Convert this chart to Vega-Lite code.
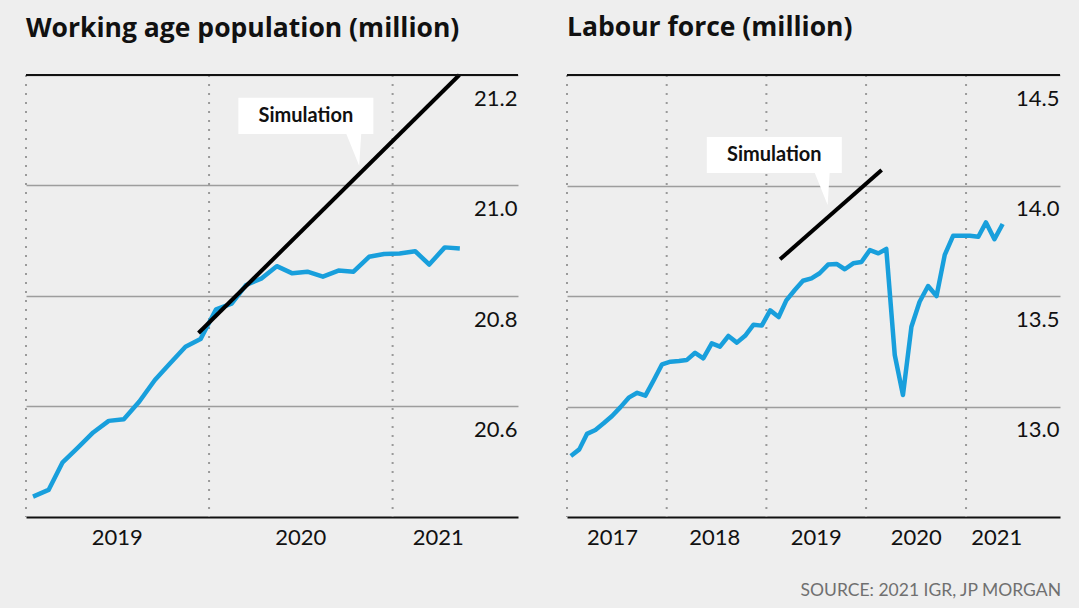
{
  "$schema": "https://vega.github.io/schema/vega-lite/v6.json",
  "background": "#eeeeee",
  "padding": {"left": 25, "right": 18, "top": 14, "bottom": 12},
  "spacing": 49,
  "bounds": "flush",
  "title": {
    "text": "SOURCE: 2021 IGR, JP MORGAN",
    "orient": "bottom",
    "anchor": "end",
    "frame": "bounds",
    "font": "Lato",
    "fontSize": 17.5,
    "fontWeight": "normal",
    "color": "#707070",
    "baseline": "alphabetic",
    "offset": 48
  },
  "datasets": {
    "wap": [
      {"date": "2019-01-15", "value": 20.437},
      {"date": "2019-02-15", "value": 20.449},
      {"date": "2019-03-15", "value": 20.499},
      {"date": "2019-04-15", "value": 20.526},
      {"date": "2019-05-15", "value": 20.553},
      {"date": "2019-06-15", "value": 20.574},
      {"date": "2019-07-15", "value": 20.577},
      {"date": "2019-08-15", "value": 20.609},
      {"date": "2019-09-15", "value": 20.648},
      {"date": "2019-10-15", "value": 20.678},
      {"date": "2019-11-15", "value": 20.708},
      {"date": "2019-12-15", "value": 20.722},
      {"date": "2020-01-15", "value": 20.776},
      {"date": "2020-02-15", "value": 20.786},
      {"date": "2020-03-15", "value": 20.82},
      {"date": "2020-04-15", "value": 20.832},
      {"date": "2020-05-15", "value": 20.854},
      {"date": "2020-06-15", "value": 20.841},
      {"date": "2020-07-15", "value": 20.844},
      {"date": "2020-08-15", "value": 20.835},
      {"date": "2020-09-15", "value": 20.846},
      {"date": "2020-10-15", "value": 20.844},
      {"date": "2020-11-15", "value": 20.871},
      {"date": "2020-12-15", "value": 20.876},
      {"date": "2021-01-15", "value": 20.877},
      {"date": "2021-02-15", "value": 20.881},
      {"date": "2021-03-15", "value": 20.857},
      {"date": "2021-04-15", "value": 20.888},
      {"date": "2021-05-15", "value": 20.886}
    ],
    "wapSim": [
      {"date": "2019-12-11", "value": 20.733},
      {"date": "2021-05-14", "value": 21.2}
    ],
    "wapNote": [
      {"date": "2020-07-12", "value": 21.126, "label": "Simulation"}
    ],
    "wapYears": [
      {"date": "2019-01-01"},
      {"date": "2020-01-01"},
      {"date": "2021-01-01"}
    ],
    "lf": [
      {"date": "2017-01-15", "value": 12.776},
      {"date": "2017-02-15", "value": 12.806},
      {"date": "2017-03-15", "value": 12.876},
      {"date": "2017-04-15", "value": 12.894},
      {"date": "2017-05-15", "value": 12.924},
      {"date": "2017-06-15", "value": 12.957},
      {"date": "2017-07-15", "value": 12.996},
      {"date": "2017-08-15", "value": 13.04},
      {"date": "2017-09-15", "value": 13.062},
      {"date": "2017-10-15", "value": 13.049},
      {"date": "2017-11-15", "value": 13.12},
      {"date": "2017-12-15", "value": 13.191},
      {"date": "2018-01-15", "value": 13.203},
      {"date": "2018-02-15", "value": 13.206},
      {"date": "2018-03-15", "value": 13.21},
      {"date": "2018-04-15", "value": 13.243},
      {"date": "2018-05-15", "value": 13.218},
      {"date": "2018-06-15", "value": 13.286},
      {"date": "2018-07-15", "value": 13.271},
      {"date": "2018-08-15", "value": 13.319},
      {"date": "2018-09-15", "value": 13.289},
      {"date": "2018-10-15", "value": 13.32},
      {"date": "2018-11-15", "value": 13.37},
      {"date": "2018-12-15", "value": 13.366},
      {"date": "2019-01-15", "value": 13.435},
      {"date": "2019-02-15", "value": 13.405},
      {"date": "2019-03-15", "value": 13.48},
      {"date": "2019-04-15", "value": 13.527},
      {"date": "2019-05-15", "value": 13.569},
      {"date": "2019-06-15", "value": 13.58},
      {"date": "2019-07-15", "value": 13.603},
      {"date": "2019-08-15", "value": 13.642},
      {"date": "2019-09-15", "value": 13.645},
      {"date": "2019-10-15", "value": 13.621},
      {"date": "2019-11-15", "value": 13.648},
      {"date": "2019-12-15", "value": 13.654},
      {"date": "2020-01-15", "value": 13.708},
      {"date": "2020-02-15", "value": 13.693},
      {"date": "2020-03-15", "value": 13.713},
      {"date": "2020-04-15", "value": 13.233},
      {"date": "2020-05-15", "value": 13.052},
      {"date": "2020-06-15", "value": 13.361},
      {"date": "2020-07-15", "value": 13.474},
      {"date": "2020-08-15", "value": 13.545},
      {"date": "2020-09-15", "value": 13.5},
      {"date": "2020-10-15", "value": 13.686},
      {"date": "2020-11-15", "value": 13.773},
      {"date": "2020-12-15", "value": 13.773},
      {"date": "2021-01-15", "value": 13.773},
      {"date": "2021-02-15", "value": 13.768},
      {"date": "2021-03-15", "value": 13.833},
      {"date": "2021-04-15", "value": 13.757},
      {"date": "2021-05-15", "value": 13.826}
    ],
    "lfSim": [
      {"date": "2019-02-20", "value": 13.666},
      {"date": "2020-02-27", "value": 14.07}
    ],
    "lfNote": [
      {"date": "2019-01-30", "value": 14.138, "label": "Simulation"}
    ],
    "lfYears": [
      {"date": "2017-01-01"},
      {"date": "2018-01-01"},
      {"date": "2019-01-01"},
      {"date": "2020-01-01"},
      {"date": "2021-01-01"}
    ]
  },
  "hconcat": [
    {
      "width": 492,
      "height": 442,
      "title": {"text": "Working age population (million)", "offset": 31},
      "layer": [
        {
          "data": {"name": "wapYears"},
          "mark": {"type": "rule", "color": "#9a9a9a", "strokeWidth": 2, "strokeDash": [2, 7]},
          "encoding": {
            "x": {
              "field": "date",
              "type": "temporal",
              "scale": {
                "type": "utc",
                "domain": [
                  {"year": 2019, "month": 1, "date": 1, "utc": true},
                  {"year": 2021, "month": 9, "date": 8, "utc": true}
                ]
              },
              "axis": {
                "values": [
                  {"year": 2019, "month": 7, "date": 1, "utc": true},
                  {"year": 2020, "month": 7, "date": 1, "utc": true},
                  {"year": 2021, "month": 4, "date": 1, "utc": true}
                ],
                "format": "%Y"
              }
            }
          }
        },
        {
          "data": {"name": "wap"},
          "mark": {"type": "line", "color": "#189fdc", "strokeWidth": 4.5, "strokeJoin": "round"},
          "encoding": {
            "x": {"field": "date", "type": "temporal"},
            "y": {
              "field": "value",
              "type": "quantitative",
              "scale": {"domain": [20.4, 21.2], "nice": false, "zero": false},
              "axis": {"values": [20.6, 20.8, 21.0, 21.2], "format": ".1f"}
            }
          }
        },
        {
          "data": {"name": "wapSim"},
          "mark": {"type": "line", "color": "#000000", "strokeWidth": 4, "strokeJoin": "round"},
          "encoding": {
            "x": {"field": "date", "type": "temporal"},
            "y": {"field": "value", "type": "quantitative"}
          }
        },
        {
          "data": {"name": "wapSim"},
          "mark": {"type": "rule", "color": "#111111", "strokeWidth": 2},
          "encoding": {"y": {"datum": 21.2}}
        },
        {
          "data": {"name": "wapNote"},
          "mark": {
            "type": "point",
            "filled": true,
            "fill": "#ffffff",
            "opacity": 1,
            "strokeWidth": 0,
            "size": 18225,
            "shape": "M-1,-0.267L1,-0.267L1,0.267L0.82,0.267L0.79,0.74L0.6,0.267L-1,0.267Z"
          },
          "encoding": {
            "x": {"field": "date", "type": "temporal"},
            "y": {"field": "value", "type": "quantitative"}
          }
        },
        {
          "data": {"name": "wapNote"},
          "mark": {"type": "text", "font": "Lato", "fontSize": 20, "fontWeight": "bold", "color": "#111111", "align": "center", "baseline": "middle"},
          "encoding": {
            "x": {"field": "date", "type": "temporal"},
            "y": {"field": "value", "type": "quantitative"},
            "text": {"field": "label"}
          }
        }
      ]
    },
    {
      "width": 493,
      "height": 442,
      "title": {"text": "Labour force (million)", "offset": 33},
      "layer": [
        {
          "data": {"name": "lfYears"},
          "mark": {"type": "rule", "color": "#9a9a9a", "strokeWidth": 2, "strokeDash": [2, 7]},
          "encoding": {
            "x": {
              "field": "date",
              "type": "temporal",
              "scale": {
                "type": "utc",
                "domain": [
                  {"year": 2017, "month": 1, "date": 1, "utc": true},
                  {"year": 2021, "month": 12, "date": 11, "utc": true}
                ]
              },
              "axis": {
                "values": [
                  {"year": 2017, "month": 6, "date": 15, "utc": true},
                  {"year": 2018, "month": 6, "date": 24, "utc": true},
                  {"year": 2019, "month": 7, "date": 1, "utc": true},
                  {"year": 2020, "month": 7, "date": 1, "utc": true},
                  {"year": 2021, "month": 4, "date": 22, "utc": true}
                ],
                "format": "%Y"
              }
            }
          }
        },
        {
          "data": {"name": "lf"},
          "mark": {"type": "line", "color": "#189fdc", "strokeWidth": 4.5, "strokeJoin": "round"},
          "encoding": {
            "x": {"field": "date", "type": "temporal"},
            "y": {
              "field": "value",
              "type": "quantitative",
              "scale": {"domain": [12.5, 14.5], "nice": false, "zero": false},
              "axis": {"values": [13.0, 13.5, 14.0, 14.5], "format": ".1f"}
            }
          }
        },
        {
          "data": {"name": "lfSim"},
          "mark": {"type": "line", "color": "#000000", "strokeWidth": 4, "strokeJoin": "round"},
          "encoding": {
            "x": {"field": "date", "type": "temporal"},
            "y": {"field": "value", "type": "quantitative"}
          }
        },
        {
          "data": {"name": "lfSim"},
          "mark": {"type": "rule", "color": "#111111", "strokeWidth": 2},
          "encoding": {"y": {"datum": 14.5}}
        },
        {
          "data": {"name": "lfNote"},
          "mark": {
            "type": "point",
            "filled": true,
            "fill": "#ffffff",
            "opacity": 1,
            "strokeWidth": 0,
            "size": 18225,
            "shape": "M-1,-0.267L1,-0.267L1,0.267L0.82,0.267L0.79,0.74L0.6,0.267L-1,0.267Z"
          },
          "encoding": {
            "x": {"field": "date", "type": "temporal"},
            "y": {"field": "value", "type": "quantitative"}
          }
        },
        {
          "data": {"name": "lfNote"},
          "mark": {"type": "text", "font": "Lato", "fontSize": 20, "fontWeight": "bold", "color": "#111111", "align": "center", "baseline": "middle"},
          "encoding": {
            "x": {"field": "date", "type": "temporal"},
            "y": {"field": "value", "type": "quantitative"},
            "text": {"field": "label"}
          }
        }
      ]
    }
  ],
  "config": {
    "font": "Lato",
    "view": {"stroke": null},
    "title": {
      "anchor": "start",
      "frame": "group",
      "font": "Open Sans",
      "fontSize": 26.5,
      "fontWeight": "bold",
      "color": "#111111",
      "baseline": "alphabetic"
    },
    "axisX": {
      "title": null,
      "grid": false,
      "ticks": false,
      "domainColor": "#111111",
      "domainWidth": 2,
      "labelFont": "Lato",
      "labelFontSize": 22,
      "labelColor": "#111111",
      "labelPadding": 10,
      "labelFlush": false,
      "labelOverlap": false,
      "minExtent": 0
    },
    "axisY": {
      "orient": "right",
      "title": null,
      "domain": false,
      "ticks": false,
      "grid": true,
      "gridColor": "#9d9d9d",
      "gridWidth": 1.5,
      "labelFont": "Lato",
      "labelFontSize": 22,
      "labelColor": "#111111",
      "labelAlign": "right",
      "labelBaseline": "middle",
      "labelPadding": -1,
      "labelOffset": 23,
      "labelFlush": false,
      "labelOverlap": false,
      "minExtent": 0,
      "maxExtent": 0
    }
  }
}
